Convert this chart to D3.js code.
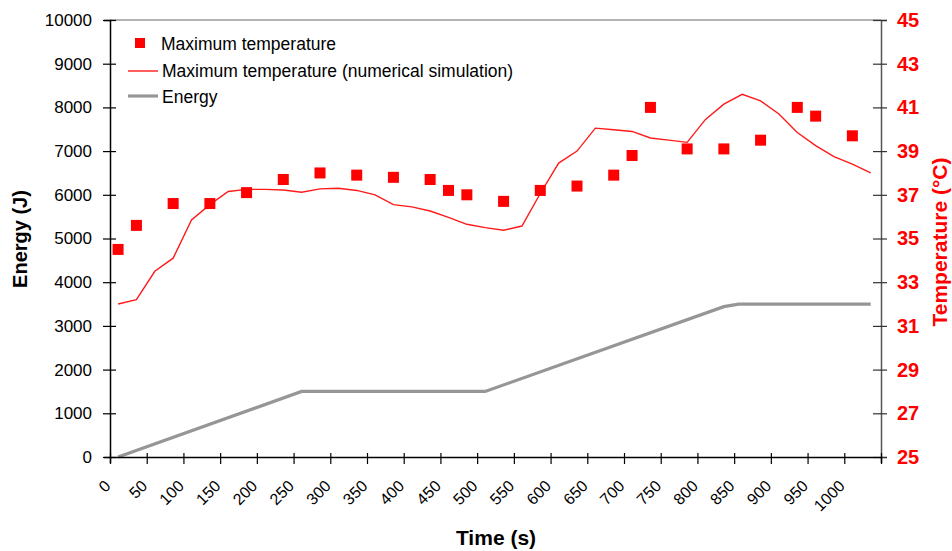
<!DOCTYPE html>
<html>
<head>
<meta charset="utf-8">
<script src="https://cdn.jsdelivr.net/npm/d3@7"></script>
<style>
  body { margin: 0; background: #fff; }
  svg { font-family: "Liberation Sans", Arial, sans-serif; }
</style>
</head>
<body>
<div id="chart"></div>
<script>
{
  // measured maximum temperature (squares)
  const measTime = [11, 36, 86, 136, 186, 236, 286, 336, 386, 436, 461, 486, 536, 586, 636, 686, 711, 736, 786, 836, 886, 936, 961, 1011];
  const measTemp = [34.5, 35.6, 36.6, 36.6, 37.1, 37.7, 38.0, 37.9, 37.8, 37.7, 37.2, 37.0, 36.7, 37.2, 37.4, 37.9, 38.8, 41.0, 39.1, 39.1, 39.5, 41.0, 40.6, 39.7];

  // numerical simulation (red line)
  const simTime = [11, 36, 61, 86, 111, 136, 161, 186, 211, 236, 261, 286, 311, 336, 361, 386, 411, 436, 461, 486, 511, 536, 561, 586, 611, 636, 661, 686, 711, 736, 761, 786, 811, 836, 861, 886, 911, 936, 961, 986, 1011, 1036];
  const simTemp = [32.0, 32.2, 33.5, 34.1, 35.85, 36.55, 37.15, 37.25, 37.25, 37.22, 37.12, 37.27, 37.3, 37.2, 37.0, 36.55, 36.45, 36.26, 35.97, 35.65, 35.5, 35.38, 35.57, 37.06, 38.45, 39.0, 40.05, 39.98, 39.9, 39.6, 39.5, 39.4, 40.45, 41.15, 41.6, 41.3, 40.7, 39.85, 39.25, 38.75, 38.4, 38.0];

  // energy (gray line)
  const energyTime = [11, 261, 511, 836, 856, 1036];
  const energyVal = [0, 1500, 1500, 3440, 3500, 3500];

  const xTicks = d3.range(0, 1051, 50);
  const energyTicks = d3.range(0, 10001, 1000);
  const tempTicks = d3.range(25, 46, 2);

  const width = 952, height = 551;
  const left = 110, right = 881, top = 20, bottom = 457;

  const svg = d3.select("#chart").append("svg")
    .attr("width", width)
    .attr("height", height);

  const x = d3.scaleLinear().domain([0, 1050]).range([left, right]);
  const yE = d3.scaleLinear().domain([0, 10000]).range([bottom, top]);
  const yT = d3.scaleLinear().domain([25, 45]).range([bottom, top]);

  // top border of plot area
  svg.append("line")
    .attr("x1", left).attr("x2", right)
    .attr("y1", top).attr("y2", top)
    .attr("stroke", "#9a9a9a").attr("stroke-width", 1.5);

  // energy line
  const energyData = energyTime.map((t, i) => [t, energyVal[i]]);
  svg.append("path")
    .datum(energyData)
    .attr("fill", "none")
    .attr("stroke", "#969696")
    .attr("stroke-width", 3.2)
    .attr("d", d3.line().x(d => x(d[0])).y(d => yE(d[1])));

  // simulation line
  const simData = simTime.map((t, i) => [t, simTemp[i]]);
  svg.append("path")
    .datum(simData)
    .attr("fill", "none")
    .attr("stroke", "#ff1a1a")
    .attr("stroke-width", 1.4)
    .attr("d", d3.line().x(d => x(d[0])).y(d => yT(d[1])));

  // measured squares
  const sq = 11;
  svg.selectAll(".meas")
    .data(measTime.map((t, i) => [t, measTemp[i]]))
    .enter()
    .append("rect")
    .attr("class", "meas")
    .attr("x", d => x(d[0]) - sq / 2)
    .attr("y", d => yT(d[1]) - sq / 2)
    .attr("width", sq)
    .attr("height", sq)
    .attr("fill", "#ff0000");

  // left axis
  const gL = svg.append("g")
    .attr("transform", `translate(${left},0)`)
    .call(d3.axisLeft(yE).tickValues(energyTicks).tickSize(6).tickFormat(d3.format("d")));
  gL.select(".domain").attr("stroke", "#000").attr("stroke-width", 1.5);
  gL.selectAll(".tick line").attr("x1", -7).attr("x2", 6).attr("stroke", "#000").attr("stroke-width", 1.2);
  gL.selectAll(".tick text")
    .attr("x", -18)
    .style("font-size", "17px")
    .style("font-family", "Liberation Sans, Arial, sans-serif")
    .attr("fill", "#000");

  // right axis
  const gR = svg.append("g")
    .attr("transform", `translate(${right},0)`)
    .call(d3.axisRight(yT).tickValues(tempTicks).tickSize(6));
  gR.select(".domain").attr("stroke", "#555").attr("stroke-width", 1.5);
  gR.selectAll(".tick line").attr("x1", -8).attr("x2", 6).attr("stroke", "#333").attr("stroke-width", 1.2);
  gR.selectAll(".tick text")
    .attr("x", 16)
    .style("font-size", "20px")
    .style("font-weight", "bold")
    .style("font-family", "Liberation Sans, Arial, sans-serif")
    .attr("fill", "#ff0000");

  // bottom axis
  const gB = svg.append("g")
    .attr("transform", `translate(0,${bottom})`)
    .call(d3.axisBottom(x).tickValues(xTicks).tickSize(6).tickFormat(d => d > 1000 ? "" : d));
  gB.select(".domain").attr("stroke", "#000").attr("stroke-width", 1.5);
  gB.selectAll(".tick line").attr("y1", -4).attr("y2", 7).attr("stroke", "#000").attr("stroke-width", 1.2);
  gB.selectAll(".tick text")
    .attr("y", 0)
    .attr("dy", 0)
    .attr("transform", "translate(1,30) rotate(-45)")
    .attr("text-anchor", "end")
    .style("font-size", "16px")
    .style("font-family", "Liberation Sans, Arial, sans-serif")
    .attr("fill", "#000");

  // axis titles
  svg.append("text")
    .attr("transform", `translate(27,239) rotate(-90)`)
    .attr("text-anchor", "middle")
    .style("font-size", "20px")
    .style("font-weight", "bold")
    .text("Energy (J)");

  svg.append("text")
    .attr("x", 496).attr("y", 545)
    .attr("text-anchor", "middle")
    .style("font-size", "21px")
    .style("font-weight", "bold")
    .text("Time (s)");

  svg.append("text")
    .attr("transform", `translate(947,242) rotate(-90)`)
    .attr("text-anchor", "middle")
    .style("font-size", "21px")
    .style("font-weight", "bold")
    .attr("fill", "#ff0000")
    .text("Temperature (°C)");

  // legend
  const legend = svg.append("g").style("font-size", "17.5px");
  legend.append("rect")
    .attr("x", 135).attr("y", 38).attr("width", 10).attr("height", 10)
    .attr("fill", "#ff0000");
  legend.append("text").attr("x", 161).attr("y", 50).text("Maximum temperature");
  legend.append("line")
    .attr("x1", 128).attr("x2", 158).attr("y1", 71).attr("y2", 71)
    .attr("stroke", "#ff1a1a").attr("stroke-width", 1.4);
  legend.append("text").attr("x", 162).attr("y", 77).text("Maximum temperature (numerical simulation)");
  legend.append("line")
    .attr("x1", 128).attr("x2", 158).attr("y1", 96).attr("y2", 96)
    .attr("stroke", "#969696").attr("stroke-width", 3.2);
  legend.append("text").attr("x", 162).attr("y", 103).text("Energy");
}
</script>
</body>
</html>
